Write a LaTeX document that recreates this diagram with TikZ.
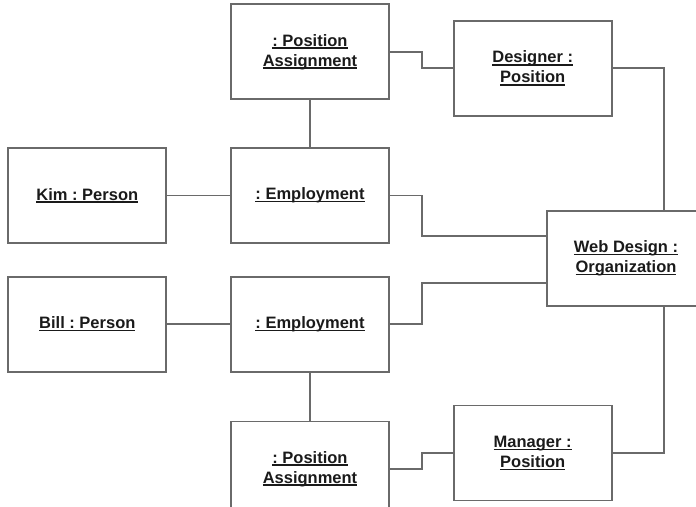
\documentclass[tikz,border=0pt]{standalone}
\usepackage{fontspec}
\setmainfont{Liberation Sans}
\usetikzlibrary{positioning}
\frenchspacing

\definecolor{boxgray}{HTML}{6A6A6A}
\definecolor{labelink}{HTML}{1A1A1A}
% object names are underlined at a fixed depth
\newcommand\uname[1]{\setbox0\hbox{#1}\rlap{\rule[-2.6pt]{\wd0}{1.3pt}}\box0}

\begin{document}
\begin{tikzpicture}[x=1pt,y=-1pt,
      every node/.style={rectangle,draw=boxgray,line width=1.7pt,
                         minimum width=158pt,minimum height=95pt,
                         inner sep=0pt,align=center,text=labelink,
                         font=\fontsize{16.5}{20}\selectfont\bfseries},
      link/.style={draw=boxgray,line width=1.7pt},
    ]
      \clip (0,0) rectangle (696,506);
      % employments and the people they belong to
      \node (emp1) at (310,195.5) {\uname{: Employment}};
      \node[left=63pt of emp1] (kim) {\uname{Kim : Person}};
      \node[below=32pt of emp1] (emp2) {\uname{: Employment}};
      \node[left=63pt of emp2] (bill) {\uname{Bill : Person}};
      % position assignments and positions
      \node[above=47pt of emp1] (pa1) {\uname{: Position}\\\uname{Assignment}};
      \node[below=48pt of emp2] (pa2) {\uname{: Position}\\\uname{Assignment}};
      \node[right=63pt of pa1,yshift=-16.5pt] (des) {\uname{Designer :}\\\uname{Position}};
      \node[right=63pt of pa2,yshift=16pt] (man) {\uname{Manager :}\\\uname{Position}};
      \node (web) at (626,258.5) {\uname{Web Design :}\\\uname{Organization}};
      \path[link] (kim) -- (emp1);
      \path[link] (bill) -- (emp2);
      \path[link] (pa1) -- (emp1);
      \path[link] (emp2) -- (pa2);
      \path[link] (pa1.east) -- ++(32,0) |- (des.west);
      \path[link] (pa2.east) -- ++(32,0) |- (man.west);
      \path[link] (emp1.east) -- ++(32,0) |- ([yshift=22.5pt]web.west);
      \path[link] (emp2.east) -- ++(32,0) |- ([yshift=-24.5pt]web.west);
      \path[link] (des.east) -| ([xshift=38pt]web.north);
      \path[link] (man.east) -| ([xshift=38pt]web.south);
    \end{tikzpicture}
\end{document}
